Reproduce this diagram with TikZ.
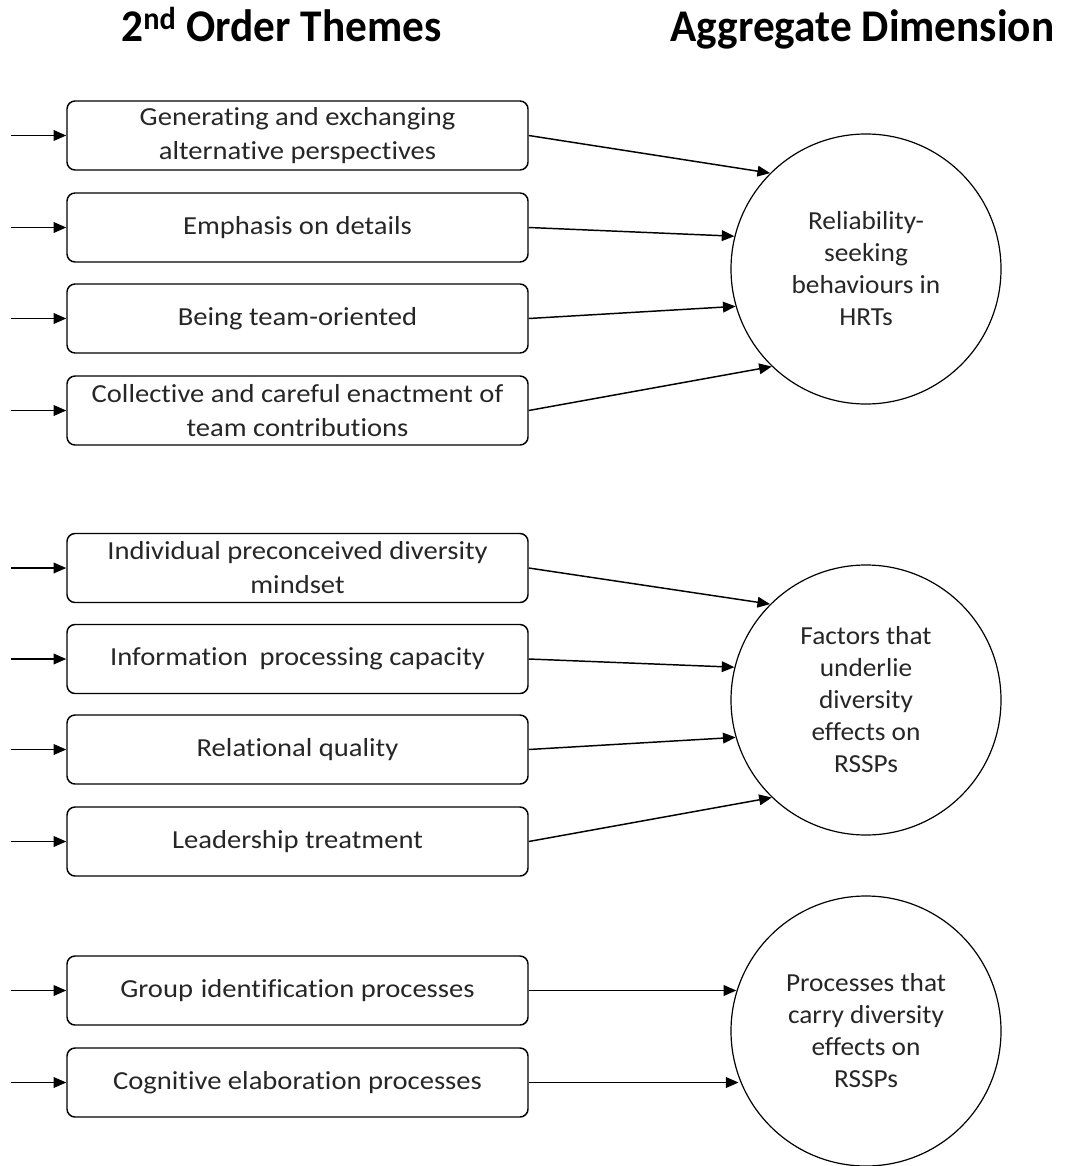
\documentclass[tikz,border=0pt]{standalone}
\usepackage{fontspec}
\setmainfont[FakeStretch=1.1,Ligatures=NoCommon]{Carlito}
\newfontfamily\circfont[FakeStretch=1.05,Ligatures=NoCommon]{Carlito}
\newfontfamily\titlefont[FakeStretch=0.955,Ligatures=NoCommon]{Carlito}
\usetikzlibrary{arrows.meta}
\begin{document}
\begin{tikzpicture}[x=0.75pt,y=-0.75pt,
  box/.style={draw=black, line width=1.1pt, rounded corners=6pt, minimum width=345.75pt, minimum height=51.75pt, align=center, inner sep=0pt, text=black!85, font=\fontsize{19.5}{25.5}\selectfont},
  dim/.style={draw=black, line width=0.9pt, circle, minimum size=202.5pt, align=center, inner sep=0pt, text=black!85, font=\circfont\fontsize{19.5}{24}\selectfont},
  title/.style={font=\titlefont\fontsize{34}{38}\selectfont\bfseries, text=black, anchor=base},
  arr/.style={line width=1.1pt, -{Triangle[length=9.5pt,width=8pt]}}
]
\useasboundingbox (0,0) rectangle (1065,1166);
\node[title] (t1) at (281.5,42) {2\textsuperscript{nd} Order Themes};
\node[title] (t2) at (862.5,42) {Aggregate Dimension};

\node[box] (b1) at (297.5,135.5) {Generating and exchanging\\alternative perspectives};
\node[box] (b2) at (297.5,227.5) {Emphasis on details};
\node[box] (b3) at (297.5,318.5) {Being team-oriented};
\node[box] (b4) at (297.5,410.5) {Collective and careful enactment of\\team contributions};
\node[box] (b5) at (297.5,568) {Individual preconceived diversity\\mindset};
\node[box] (b6) at (297.5,659) {Information\hspace{0.45em}processing capacity};
\node[box] (b7) at (297.5,749.5) {Relational quality};
\node[box] (b8) at (297.5,841.5) {Leadership treatment};
\node[box] (b9) at (297.5,990.5) {Group\hspace{0.3em}identification processes};
\node[box] (b10) at (297.5,1082.5) {Cognitive elaboration processes};

\node[dim] (c1) at (866,269) {Reliability-\\seeking\\behaviours in\\HRTs};
\node[dim] (c2) at (866,700) {Factors that\\underlie\\diversity\\effects on\\RSSPs};
\node[dim] (c3) at (866,1031) {Processes that\\carry diversity\\effects on\\RSSPs};

\foreach \i in {1,...,10} {
  \coordinate (s\i) at ([xshift=-41.25pt]b\i.west);
  \draw[arr] (s\i) -- (b\i.west);
}
\draw[arr] (b1.east) -- (c1.135);
\draw[arr] (b2.east) -- (c1.166);
\draw[arr] (b3.east) -- (c1.196);
\draw[arr] (b4.east) -- (c1.226);
\draw[arr] (b5.east) -- (c2.135);
\draw[arr] (b6.east) -- (c2.166);
\draw[arr] (b7.east) -- (c2.196);
\draw[arr] (b8.east) -- (c2.226);
\draw[arr] (b9.east) -- (b9.east -| c3.163);
\draw[arr] (b10.east) -- (b10.east -| c3.200);
\end{tikzpicture}
\end{document}
